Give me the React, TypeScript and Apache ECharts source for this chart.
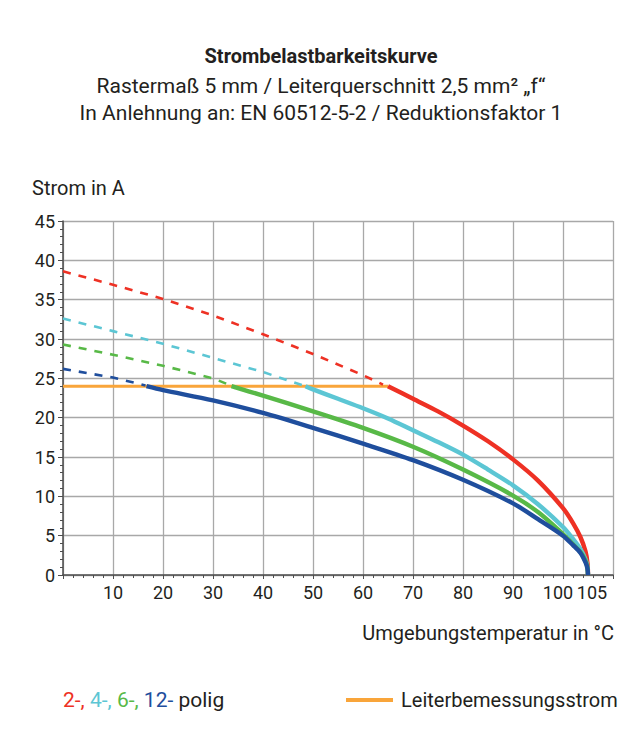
import React, { useEffect, useRef } from 'react';
import * as echarts from 'echarts';

const FONT = "Roboto, 'Liberation Sans', sans-serif";
const TEXT = '#231f20';
const AXIS = '#4d4d4d';
const GRID = '#a8a8a8';
const RED = '#ee3124';
const CYAN = '#5cc6d4';
const GREEN = '#58b947';
const BLUE = '#1f4e9d';
const ORANGE = '#f9a53a';

const titleText = 'Strombelastbarkeitskurve';
const subtitle1 = 'Rastermaß 5 mm / Leiterquerschnitt 2,5 mm² „f“';
const subtitle2 = 'In Anlehnung an: EN 60512-5-2 / Reduktionsfaktor 1';
const yAxisName = 'Strom in A';
const xAxisName = 'Umgebungstemperatur in °C';
const ratedName = 'Leiterbemessungsstrom';

const xLabelsMain = [10, 20, 30, 40, 50, 60, 70, 80, 90, 100];
const xLabelExtra = 105;

// Leiterbemessungsstrom (orange)
const ratedCurrent = [[0, 24], [65, 24]];

// 2-polig (red)
const pol2Dashed = [[0, 38.6], [10, 36.9], [20, 35.1], [30, 33.0], [40, 30.6], [50, 28.1], [60, 25.4], [64, 24.2]];
const pol2Solid = [[65, 24.0], [70, 22.4], [75, 20.8], [80, 19.0], [85, 17.0], [90, 14.7], [95, 12.0], [100, 8.5], [102, 6.6], [103.5, 4.8], [104.5, 3.0], [104.9, 1.5], [105, 0]];

// 4-polig (cyan)
const pol4Dashed = [[0, 32.6], [10, 31.0], [20, 29.4], [30, 27.6], [40, 25.8], [48, 24.1]];
const pol4Solid = [[48.5, 24.0], [50, 23.6], [55, 22.4], [60, 21.2], [65, 19.9], [70, 18.4], [75, 16.9], [80, 15.3], [85, 13.4], [90, 11.4], [95, 9.0], [100, 6.1], [102, 4.6], [103.5, 3.3], [104.5, 2.0], [104.9, 1.0], [105, 0]];

// 6-polig (green)
const pol6Dashed = [[0, 29.3], [10, 28.0], [20, 26.6], [30, 25.0], [33.5, 24.1]];
const pol6Solid = [[33.7, 24.0], [40, 22.8], [50, 20.8], [60, 18.7], [70, 16.3], [80, 13.4], [90, 10.1], [95, 8.0], [100, 5.2], [102, 3.9], [103.5, 2.9], [104.5, 1.8], [104.9, 0.9], [105, 0]];

// 12-polig (blue)
const pol12Dashed = [[0, 26.2], [10, 25.1], [16.5, 24.1]];
const pol12Solid = [[16.7, 24.0], [20, 23.5], [30, 22.2], [40, 20.6], [50, 18.7], [60, 16.7], [70, 14.6], [80, 12.1], [90, 9.1], [95, 7.1], [100, 5.0], [102, 3.8], [103.5, 2.8], [104.5, 1.6], [104.9, 0.8], [105, 0]];

const dashed = (name: string, data: number[][], color: string) => ({
  name,
  type: 'line',
  data,
  showSymbol: false,
  symbol: 'none',
  z: 3,
  color,
  lineStyle: { color, width: 2.6, type: [8, 8], cap: 'butt' },
});

const solid = (name: string, data: number[][], color: string) => ({
  name,
  type: 'line',
  data,
  showSymbol: false,
  symbol: 'none',
  smooth: 0.3,
  z: 4,
  color,
  lineStyle: { color, width: 4.4, cap: 'butt', join: 'round' },
});

export default function App() {
  const ref = useRef<HTMLDivElement>(null);
  useEffect(() => {
    if (!ref.current) return;
    const chart = echarts.init(ref.current, null, { renderer: 'svg' });
    const titleStyle = (bold: boolean) => ({
      fontSize: bold ? 20 : 21,
      lineHeight: 24,
      fontWeight: bold ? 'bold' : 'normal',
      fontFamily: FONT,
      color: TEXT,
    });
    chart.setOption({
      animation: false,
      backgroundColor: '#ffffff',
      title: [
        { text: titleText, left: 'center', top: 39, padding: 5, textStyle: titleStyle(true) },
        { text: subtitle1, left: 'center', top: 69, padding: 5, textStyle: titleStyle(false) },
        { text: subtitle2, left: 'center', top: 96, padding: 5, textStyle: titleStyle(false) },
      ],
      grid: { left: 63, right: 29, top: 221, bottom: 179 },
      legend: {
        data: [ratedName],
        left: 346,
        top: 690,
        padding: 0,
        icon: 'rect',
        itemWidth: 47,
        itemHeight: 4,
        textStyle: { fontSize: 20, fontFamily: FONT, color: TEXT, padding: [0, 0, 0, 3] },
      },
      graphic: [
        {
          type: 'text',
          left: 63,
          top: 689,
          style: {
            text: '{r|2-,} {c|4-,} {g|6-,} {b|12-} polig',
            fontSize: 21,
            fontFamily: FONT,
            fill: TEXT,
            rich: {
              r: { fill: RED, fontSize: 21, fontFamily: FONT },
              c: { fill: CYAN, fontSize: 21, fontFamily: FONT },
              g: { fill: GREEN, fontSize: 21, fontFamily: FONT },
              b: { fill: BLUE, fontSize: 21, fontFamily: FONT },
            },
          },
        },
      ],
      xAxis: [
        {
          type: 'value',
          min: 0,
          max: 110,
          interval: 10,
          position: 'bottom',
          name: xAxisName,
          nameLocation: 'end',
          nameGap: 1,
          nameTextStyle: {
            fontSize: 20,
            fontFamily: FONT,
            color: TEXT,
            align: 'right',
            verticalAlign: 'top',
            padding: [48, 0, 0, 0],
          },
          axisLine: { show: true, lineStyle: { color: AXIS, width: 1.5 } },
          axisTick: { show: true, length: 4, lineStyle: { color: AXIS, width: 1 } },
          minorTick: { show: true, splitNumber: 5, length: 3, lineStyle: { color: AXIS, width: 1 } },
          splitLine: { show: true, lineStyle: { color: GRID, width: 1.3 } },
          axisLabel: {
            fontSize: 18,
            fontFamily: FONT,
            color: TEXT,
            margin: 8,
            formatter: (v: number) => {
              if (!xLabelsMain.includes(v)) return '';
              if (v === 100) return '{s|100}';
              return String(v);
            },
            rich: { s: { fontSize: 18, fontFamily: FONT, color: TEXT, padding: [0, 10, 0, 0] } },
          },
        },
        {
          type: 'value',
          min: 0,
          max: 110,
          interval: 5,
          position: 'bottom',
          axisLine: { show: false },
          axisTick: { show: false },
          splitLine: { show: false },
          axisLabel: {
            fontSize: 18,
            fontFamily: FONT,
            color: TEXT,
            margin: 8,
            formatter: (v: number) => (v === xLabelExtra ? '{s|' + xLabelExtra + '}' : ''),
            rich: { s: { fontSize: 18, fontFamily: FONT, color: TEXT, padding: [0, 0, 0, 8] } },
          },
        },
      ],
      yAxis: {
        type: 'value',
        min: 0,
        max: 45,
        interval: 5,
        name: yAxisName,
        nameLocation: 'end',
        nameGap: 23,
        nameTextStyle: {
          fontSize: 20,
          fontFamily: FONT,
          color: TEXT,
          align: 'center',
          padding: [0, 0, 0, 31],
        },
        axisLine: { show: true, lineStyle: { color: AXIS, width: 1.5 } },
        axisTick: { show: true, length: 5, lineStyle: { color: AXIS, width: 1 } },
        minorTick: { show: true, splitNumber: 5, length: 3, lineStyle: { color: AXIS, width: 1 } },
        splitLine: { show: true, lineStyle: { color: GRID, width: 1.3 } },
        axisLabel: { fontSize: 18, fontFamily: FONT, color: TEXT, margin: 8 },
      },
      series: [
        {
          name: ratedName,
          type: 'line',
          data: ratedCurrent,
          showSymbol: false,
          symbol: 'none',
          z: 2,
          color: ORANGE,
          itemStyle: { color: ORANGE },
          lineStyle: { color: ORANGE, width: 3 },
        },
        dashed('2-polig (extrapoliert)', pol2Dashed, RED),
        dashed('4-polig (extrapoliert)', pol4Dashed, CYAN),
        dashed('6-polig (extrapoliert)', pol6Dashed, GREEN),
        dashed('12-polig (extrapoliert)', pol12Dashed, BLUE),
        solid('2-polig', pol2Solid, RED),
        solid('4-polig', pol4Solid, CYAN),
        solid('6-polig', pol6Solid, GREEN),
        solid('12-polig', pol12Solid, BLUE),
      ],
    });
    return () => chart.dispose();
  }, []);
  return (
    <div
      ref={ref}
      style={{ position: 'absolute', left: 0, top: 0, width: 642, height: 754, background: '#fff' }}
    />
  );
}
